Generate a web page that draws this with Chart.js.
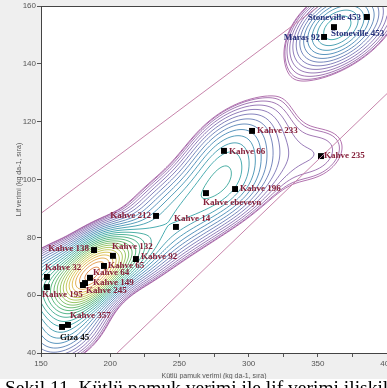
<!DOCTYPE html>
<html><head><meta charset="utf-8">
<script src="https://cdn.jsdelivr.net/npm/chart.js@4.4.1/dist/chart.umd.min.js"></script>
<style>
html,body{margin:0;padding:0;background:#fff;overflow:hidden;width:387px;height:388px;}
#wrap{position:absolute;left:0;top:0;width:387px;height:379px;background:#efefef;overflow:hidden;}
#cap{position:absolute;left:5px;top:378px;font:19.5px "Liberation Serif",serif;line-height:19px;white-space:nowrap;color:#000;}
</style></head><body>
<div id="wrap"><canvas id="c" width="400" height="388"></canvas></div>
<div id="cap">Şekil 11. Kütlü pamuk verimi ile lif verimi ilişkileri</div>
<script>
// ---- data ----
const genotypes = ['Stoneville 453','Stoneville 453 a','Maraş 92','Kahve 233','Kahve 66','Kahve 235','Kahve 196','Kahve ebeveyn','Kahve 212','Kahve 14','Kahve 138','Kahve 132','Kahve 92','Kahve 65','Kahve 32','Kahve 64','Kahve 149','Kahve 245','Kahve 195','Kahve 357','Giza 45'];
const kutluVerim = [385.5,361.7,354.5,302.5,282.2,352.3,290.2,269.2,233.1,247.5,188.3,202.0,218.6,195.5,154.3,185.4,181.8,180.3,154.3,169.5,165.2];
const lifVerim   = [156.2,152.7,149.3,116.8,109.9,108.1,96.7,95.3,87.4,83.6,75.6,73.6,72.5,70.1,66.3,66.0,64.2,63.5,62.8,49.7,49.0];
const xTicks = [150,200,250,300,350,400];
const yTicks = [40,60,80,100,120,140,160];
const lineA_x = [150,350], lineA_y = [88.3,159.7];
const lineB_x = [205,400], lineB_y = [40,129.7];

// ---- label placement (style) ----
const labelPlace = {
 'Stoneville 453':[-6,1,'right'],'Stoneville 453 a':[-3,7,'left'],'Maraş 92':[-4,1,'right'],
 'Kahve 233':[5,0,'left'],'Kahve 66':[5,1,'left'],'Kahve 235':[3,0,'left'],'Kahve 196':[5,0,'left'],
 'Kahve ebeveyn':[-3,10,'left'],'Kahve 212':[-5,0,'right'],'Kahve 14':[-2,-8,'left'],
 'Kahve 138':[-5,-1,'right'],'Kahve 132':[-1,-9,'left'],'Kahve 92':[5,-2,'left'],'Kahve 65':[4,0,'left'],
 'Kahve 32':[-2,-9,'left'],'Kahve 64':[3,-5,'left'],'Kahve 149':[8,0,'left'],'Kahve 245':[3,6,'left'],
 'Kahve 195':[-5,8,'left'],'Kahve 357':[2,-9,'left'],'Giza 45':[-2,11,'left']
};
function labelColor(n){ if(n.startsWith('Stoneville')||n.startsWith('Maraş')) return '#26307a'; if(n.startsWith('Giza')) return '#111'; return '#86203a'; }

const stops = [[0,[165,90,160]],[0.18,[120,104,176]],[0.32,[60,130,178]],[0.45,[42,160,162]],[0.6,[60,172,104]],[0.74,[150,192,72]],[0.86,[222,190,64]],[1,[222,126,58]]];
function levelColor(t){
  for(let i=1;i<stops.length;i++){ if(t<=stops[i][0]){ const a=stops[i-1],b=stops[i]; const f=(t-a[0])/(b[0]-a[0]);
    return 'rgb('+a[1].map((v,k)=>Math.round(v+(b[1][k]-v)*f)).join(',')+')'; } }
  return 'rgb(222,126,58)';
}

const bgPlugin = { id:'bg', beforeDraw(chart){ const {ctx,chartArea:a}=chart; ctx.save(); ctx.fillStyle='#fff'; ctx.fillRect(a.left,a.top,a.right-a.left,a.bottom-a.top); ctx.restore(); },
  afterDraw(chart){ const {ctx,chartArea:a}=chart; ctx.save(); ctx.strokeStyle='#444'; ctx.lineWidth=1; ctx.strokeRect(a.left+0.5,a.top+0.5,a.right-a.left,a.bottom-a.top); ctx.restore(); } };

// adaptive (variable-bandwidth) kernel density of the genotype points, contoured with marching squares
const contourPlugin = { id:'contours', beforeDatasetsDraw(chart){
  const {ctx, chartArea:a, scales:{x,y}} = chart;
  const px = kutluVerim.map(v=>x.getPixelForValue(v)), py = lifVerim.map(v=>y.getPixelForValue(v));
  const n=px.length, H=[], W=[];
  for(let k=0;k<n;k++){ const d=[]; for(let m=0;m<n;m++) if(m!==k) d.push(Math.hypot(px[k]-px[m],py[k]-py[m])); d.sort((p,q)=>p-q);
    const h=Math.min(42,Math.max(22,d[1]*0.8)); H.push(h); W.push(22/h); }
  const step=2, nx=Math.ceil((a.right-a.left)/step)+1, ny=Math.ceil((a.bottom-a.top)/step)+1;
  const th=40*Math.PI/180, c=Math.cos(th), s=Math.sin(th);
  const F=new Float32Array(nx*ny); let max=0;
  for(let j=0;j<ny;j++) for(let i=0;i<nx;i++){
    const X=a.left+i*step, Y=a.top+j*step; let sum=0;
    for(let k=0;k<n;k++){ const dx=X-px[k], dy=Y-py[k]; const u=(dx*c-dy*s)/(H[k]*1.02), w=(dx*s+dy*c)/(H[k]*0.68); sum+=W[k]*Math.exp(-0.5*(u*u+w*w)); }
    F[j*nx+i]=sum; if(sum>max) max=sum;
  }
  ctx.save(); ctx.beginPath(); ctx.rect(a.left,a.top,a.right-a.left,a.bottom-a.top); ctx.clip();
  ctx.lineWidth=0.85;
  const N=26;
  for(let L=0;L<N;L++){
    const t=L/(N-1), lev=max*(0.09+0.88*Math.pow(t,1.7));
    ctx.strokeStyle=levelColor(t); ctx.beginPath();
    for(let j=0;j<ny-1;j++) for(let i=0;i<nx-1;i++){
      const v0=F[j*nx+i], v1=F[j*nx+i+1], v2=F[(j+1)*nx+i+1], v3=F[(j+1)*nx+i];
      const b0=v0>=lev,b1=v1>=lev,b2=v2>=lev,b3=v3>=lev;
      if(b0===b1&&b1===b2&&b2===b3) continue;
      const X0=a.left+i*step, Y0=a.top+j*step, pts=[];
      if(b0!==b1) pts.push([X0+step*(lev-v0)/(v1-v0), Y0]);
      if(b1!==b2) pts.push([X0+step, Y0+step*(lev-v1)/(v2-v1)]);
      if(b3!==b2) pts.push([X0+step*(lev-v3)/(v2-v3), Y0+step]);
      if(b0!==b3) pts.push([X0, Y0+step*(lev-v0)/(v3-v0)]);
      for(let p=0;p+1<pts.length;p+=2){ ctx.moveTo(pts[p][0],pts[p][1]); ctx.lineTo(pts[p+1][0],pts[p+1][1]); }
    }
    ctx.stroke();
  }
  ctx.restore();
}};

const labelPlugin = { id:'labels', afterDatasetsDraw(chart){
  const {ctx, scales:{x,y}} = chart; ctx.save();
  ctx.font='bold 9px "Liberation Serif", serif'; ctx.textBaseline='middle';
  genotypes.forEach((n,i)=>{ const p=labelPlace[n]||[4,0,'left']; ctx.fillStyle=labelColor(n); ctx.textAlign=p[2];
    ctx.fillText(n, x.getPixelForValue(kutluVerim[i])+p[0], y.getPixelForValue(lifVerim[i])+p[1]); });
  ctx.restore();
}};

const tickFont = {family:'"Liberation Sans", Arial, sans-serif', size:8};
new Chart(document.getElementById('c'), {
  type:'scatter',
  data:{ datasets:[
    {type:'line', data:lineA_x.map((v,i)=>({x:v,y:lineA_y[i]})), borderColor:'#c784ab', borderWidth:1, pointRadius:0, fill:false},
    {type:'line', data:lineB_x.map((v,i)=>({x:v,y:lineB_y[i]})), borderColor:'#c784ab', borderWidth:1, pointRadius:0, fill:false},
    {data:kutluVerim.map((v,i)=>({x:v,y:lifVerim[i]})), pointStyle:'rect', pointRadius:4.2, backgroundColor:'#000', borderWidth:0}
  ]},
  options:{ responsive:false, animation:false, devicePixelRatio:1,
    layout:{padding:{left:0,right:13,top:6,bottom:0}},
    plugins:{legend:{display:false}, tooltip:{enabled:false}},
    scales:{
      x:{type:'linear', min:150, max:400,
        afterBuildTicks:s=>{ const t=[]; for(let v=150; v<=400; v+=25) t.push({value:v}); s.ticks=t; },
        ticks:{autoSkip:false, maxRotation:0, padding:2, color:'#555', font:tickFont, callback:v=>xTicks.includes(v)?String(v):''},
        grid:{drawOnChartArea:false, drawTicks:true, tickLength:4, tickColor:'#555'},
        border:{color:'#444'},
        title:{display:true, text:'Kütlü pamuk verimi (kg da-1, sıra)', color:'#555', font:{family:'"Liberation Sans", Arial, sans-serif', size:7}, padding:{top:0,bottom:8}},
        afterFit:s=>{ s.height=35; } },
      y:{type:'linear', min:40, max:160,
        afterBuildTicks:s=>{ s.ticks=yTicks.map(v=>({value:v})); },
        ticks:{padding:1, color:'#555', font:tickFont},
        grid:{drawOnChartArea:false, drawTicks:true, tickLength:4, tickColor:'#555'},
        border:{color:'#444'},
        title:{display:true, text:'Lif verimi (kg da-1, sıra)', color:'#555', font:{family:'"Liberation Sans", Arial, sans-serif', size:7}, padding:{top:15,bottom:0}},
        afterFit:s=>{ s.width=41; } }
    }
  },
  plugins:[bgPlugin, contourPlugin, labelPlugin]
});
</script>
</body></html>
